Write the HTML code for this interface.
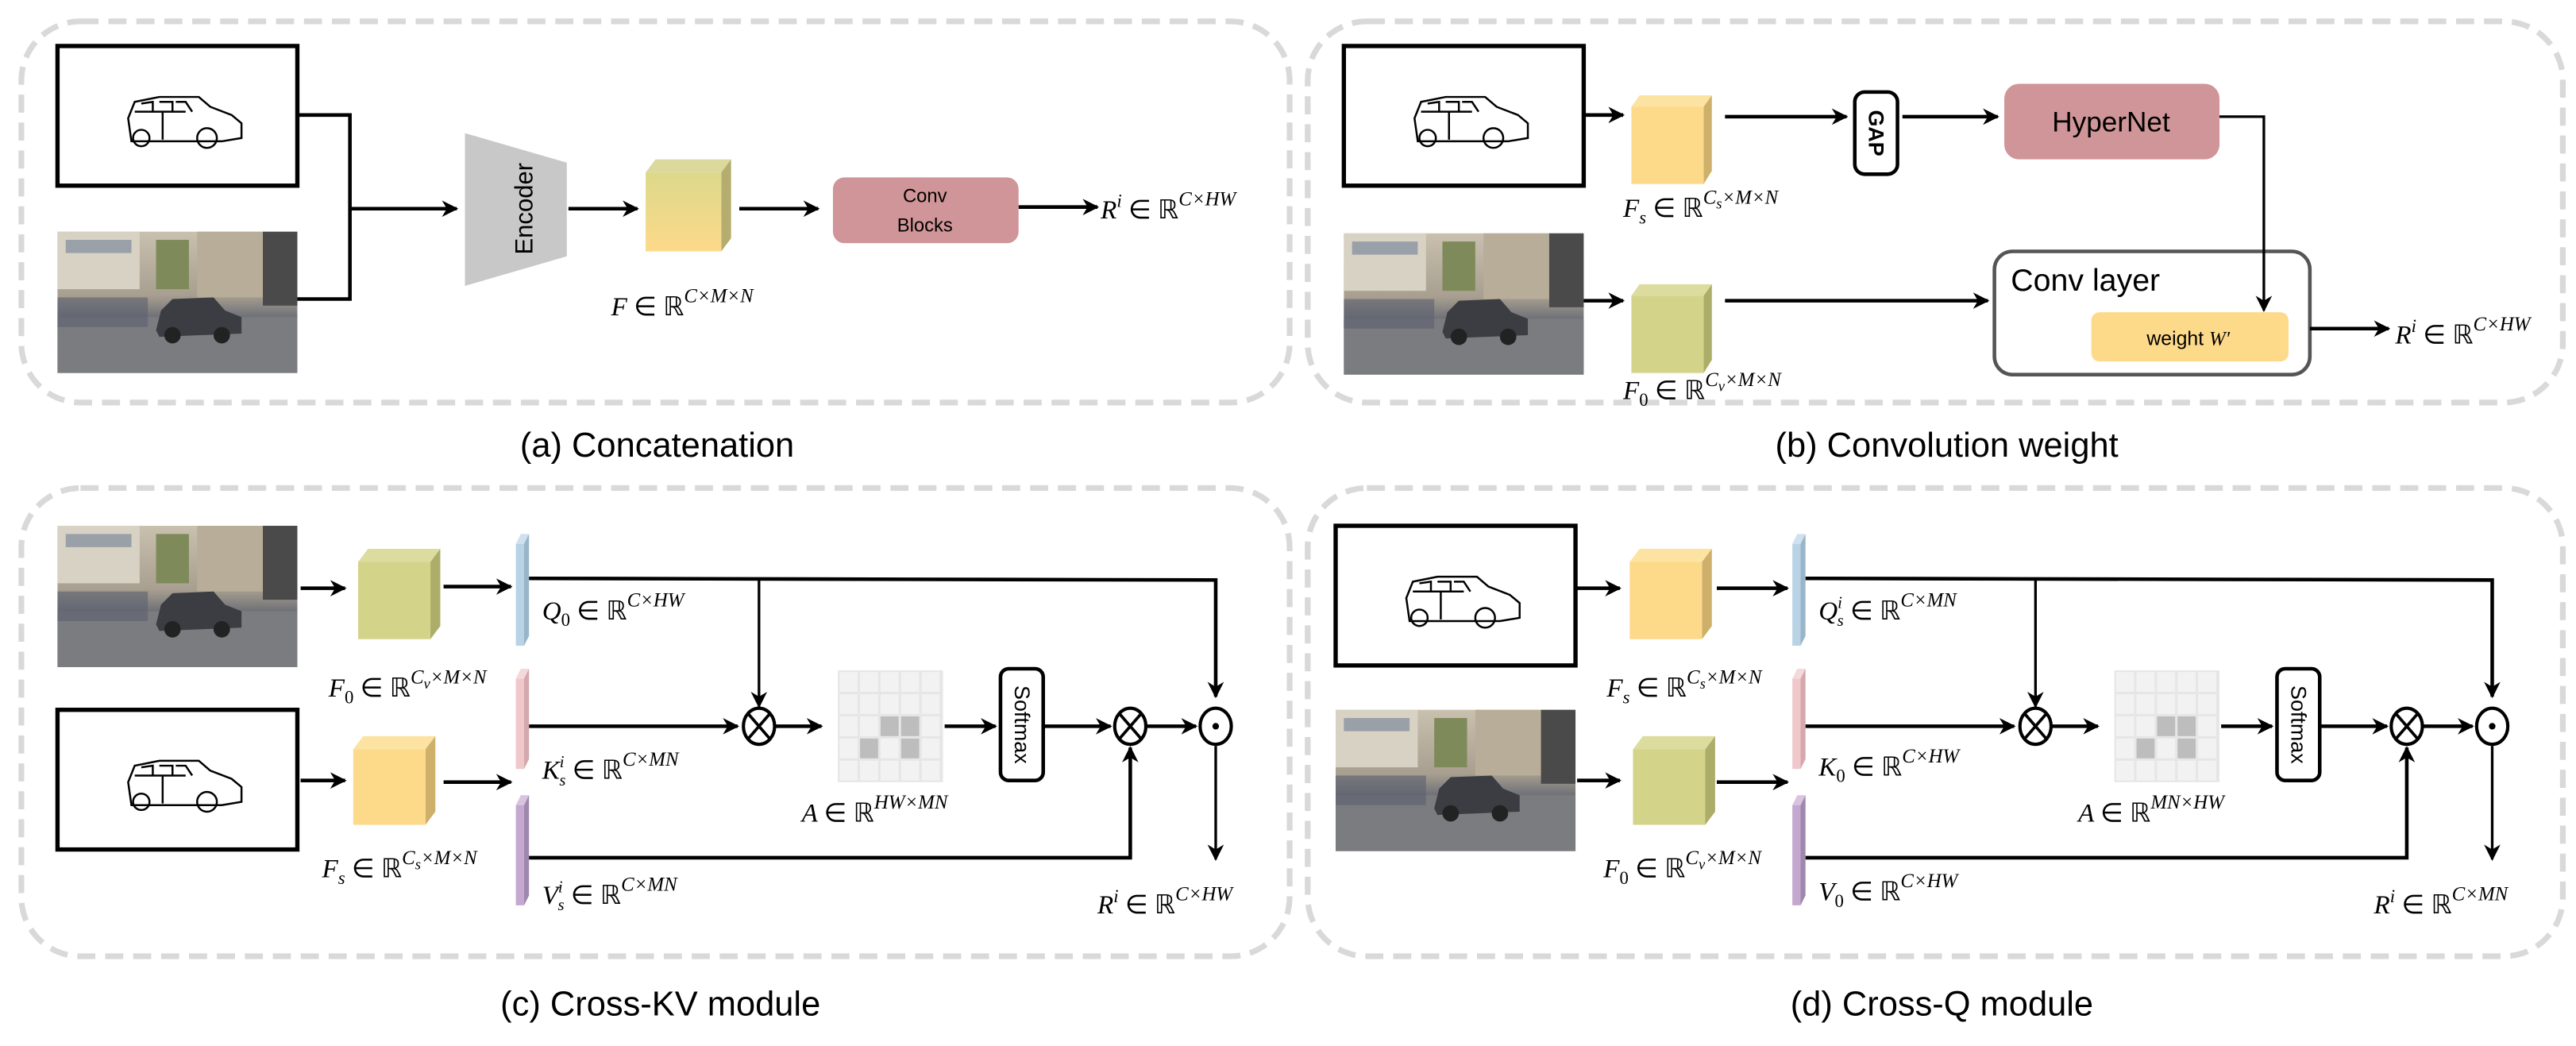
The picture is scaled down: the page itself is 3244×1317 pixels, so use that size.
<!DOCTYPE html>
<html><head><meta charset="utf-8"><style>
html,body{margin:0;padding:0;background:#fff}
svg{display:block}
.m{font-family:"Liberation Serif",serif;font-style:italic;font-size:16px;fill:#000}
.cap{font-family:"Liberation Sans",sans-serif;font-size:21px;fill:#000}
.s{font-family:"Liberation Sans",sans-serif;fill:#000}
</style></head><body>
<svg width="3244" height="1317" viewBox="0 0 1568 636.6" preserveAspectRatio="none" xmlns="http://www.w3.org/2000/svg">
<defs>
<marker id="ar" markerWidth="10" markerHeight="10" refX="9" refY="5" orient="auto" markerUnits="userSpaceOnUse">
<path d="M0,0 L10,5 L0,10 L3,5 Z" fill="#000"/></marker>
<linearGradient id="gF" x1="0" y1="0" x2="0" y2="1"><stop offset="0" stop-color="#dcd98a"/><stop offset="1" stop-color="#fdd98a"/></linearGradient>
<linearGradient id="sky" x1="0" y1="0" x2="0" y2="1"><stop offset="0" stop-color="#c9c0ae"/><stop offset="0.45" stop-color="#a89f90"/><stop offset="0.6" stop-color="#707278"/><stop offset="1" stop-color="#8a8b90"/></linearGradient>
<g id="sketch">
<rect x="0" y="0" width="146" height="85" fill="#fff" stroke="#000" stroke-width="2.6"/>
<g fill="none" stroke="#000" stroke-width="1.2">
<path d="M45,58 L43,44 L47,34 L62,31 L86,31 L93,37 L106,42 L112,47 L112,56 L100,58 L52,58 Z"/>
<path d="M47,40 L78,40 M51,35 L58,34 L58,40 M62,34 L70,34 L70,40 M72,34 L78,34 L82,40"/>
<path d="M64,40 L64,57"/>
<circle cx="51" cy="56" r="5"/><circle cx="91" cy="56" r="6"/>
</g></g>
<g id="photo">
<rect x="0" y="0" width="146" height="86" fill="url(#sky)"/>
<rect x="0" y="0" width="50" height="35" fill="#d8d2c4"/>
<rect x="5" y="5" width="40" height="8" fill="#9aa0a8"/>
<rect x="85" y="0" width="40" height="40" fill="#b8ad98"/>
<rect x="60" y="5" width="20" height="30" fill="#7f8a5a"/>
<rect x="125" y="0" width="21" height="45" fill="#4a4a4a"/>
<rect x="0" y="52" width="146" height="34" fill="#7b7c80"/>
<path d="M60,60 L63,48 L70,41 L95,40 L102,48 L112,52 L112,62 L62,64 Z" fill="#3b3d42"/>
<circle cx="70" cy="63" r="5" fill="#222"/><circle cx="100" cy="63" r="5" fill="#222"/>
<path d="M0,40 L55,40 L55,58 L0,58Z" fill="#5b6070" opacity="0.6"/>
</g>
</defs>

<g fill="none" stroke="#d9d9d9" stroke-width="3.5" stroke-dasharray="11,6">
<rect x="13" y="13" width="772" height="232" rx="36"/>
<rect x="796" y="13" width="764" height="232" rx="36"/>
<rect x="13" y="297" width="772" height="285" rx="36"/>
<rect x="796" y="297" width="764" height="285" rx="36"/>
</g>
<text class="cap" x="400" y="278" text-anchor="middle">(a) Concatenation</text>
<text class="cap" x="1185" y="278" text-anchor="middle">(b) Convolution weight</text>
<text class="cap" x="402" y="618" text-anchor="middle">(c) Cross-KV module</text>
<text class="cap" x="1182" y="618" text-anchor="middle">(d) Cross-Q module</text>

<!-- (a) -->
<use href="#sketch" x="35" y="28"/>
<use href="#photo" x="35" y="141"/>
<g stroke="#000" stroke-width="2.2" fill="none">
<path d="M182,70 L213,70 L213,182 L181,182"/>
<path d="M213,127 L278,127" marker-end="url(#ar)"/>
<path d="M346,127 L388,127" marker-end="url(#ar)"/>
<path d="M450,127 L498,127" marker-end="url(#ar)"/>
<path d="M620,126 L668,126" marker-end="url(#ar)"/>
</g>
<polygon points="283,81 345,99 345,156 283,174" fill="#c8c8c8"/>
<text class="s" font-size="15" transform="translate(319,127) rotate(-90)" text-anchor="middle" dominant-baseline="central">Encoder</text>
<polygon points="393,105 399,97 445,97 439,105" fill="#dcd99c"/>
<polygon points="439,105 445,97 445,145 439,153" fill="#b5ad70"/>
<rect x="393" y="105" width="46" height="48" fill="url(#gF)"/>
<text class="m" x="372" y="192">F <tspan font-style="normal">∈ ℝ</tspan><tspan dy="-8" font-size="12">C×M×N</tspan></text>
<rect x="507" y="108" width="113" height="40" rx="7" fill="#d09598"/>
<text class="s" font-size="11.5" x="563" y="123" text-anchor="middle">Conv</text>
<text class="s" font-size="11.5" x="563" y="141" text-anchor="middle">Blocks</text>
<text class="m" x="670" y="133">R<tspan dy="-7" font-size="11">i</tspan><tspan dy="7" font-style="normal"> ∈ ℝ</tspan><tspan dy="-8" font-size="12">C×HW</tspan></text>

<!-- (b) -->
<use href="#sketch" x="818" y="28"/>
<use href="#photo" x="818" y="142"/>
<rect x="1214" y="153" width="192" height="75" rx="11" fill="#fff" stroke="#555" stroke-width="2.2"/>
<text class="s" font-size="19" x="1224" y="177">Conv layer</text>
<rect x="1273" y="190" width="120" height="30" rx="5" fill="#fdd98a"/>
<text class="s" font-size="12" x="1332" y="210" text-anchor="middle">weight <tspan font-family="Liberation Serif" font-style="italic">W′</tspan></text>
<g stroke="#000" stroke-width="2.2" fill="none">
<path d="M964,70 L988,70" marker-end="url(#ar)"/>
<path d="M1050,71 L1124,71" marker-end="url(#ar)"/>
<path d="M1158,71 L1216,71" marker-end="url(#ar)"/>
<path d="M1350,71 L1378,71 L1378,189" stroke-width="1.6" marker-end="url(#ar)"/>
<path d="M964,183 L988,183" marker-end="url(#ar)"/>
<path d="M1050,183 L1210,183" marker-end="url(#ar)"/>
<path d="M1406,200 L1454,200" marker-end="url(#ar)"/>
</g>
<polygon points="993,65 998,58 1042,58 1037,65" fill="#fde3a2"/>
<polygon points="1037,65 1042,58 1042,104 1037,112" fill="#cfb06a"/>
<rect x="993" y="65" width="44" height="47" fill="#fdd98a"/>
<polygon points="993,180 998,173 1042,173 1037,180" fill="#dcdc9e"/>
<polygon points="1037,180 1042,173 1042,219 1037,227" fill="#adad6a"/>
<rect x="993" y="180" width="44" height="47" fill="#d3d38a"/>
<text class="m" x="988" y="132">F<tspan dy="4" font-size="11">s</tspan><tspan dy="-4" font-style="normal"> ∈ ℝ</tspan><tspan dy="-8" font-size="12">C</tspan><tspan dy="3" font-size="9">s</tspan><tspan dy="-3" font-size="12">×M×N</tspan></text>
<text class="m" x="988" y="243">F<tspan dy="4" font-size="11" font-style="normal">0</tspan><tspan dy="-4" font-style="normal"> ∈ ℝ</tspan><tspan dy="-8" font-size="12">C</tspan><tspan dy="3" font-size="9">v</tspan><tspan dy="-3" font-size="12">×M×N</tspan></text>
<rect x="1129" y="56" width="26" height="50" rx="6" fill="#fff" stroke="#000" stroke-width="2.2"/>
<text class="s" font-size="13" font-weight="bold" transform="translate(1142,81) rotate(90)" text-anchor="middle" dominant-baseline="central">GAP</text>
<rect x="1220" y="51" width="131" height="46" rx="9" fill="#d09598"/>
<text class="s" font-size="17" x="1285" y="80" text-anchor="middle">HyperNet</text>
<text class="m" x="1458" y="209">R<tspan dy="-7" font-size="11">i</tspan><tspan dy="7" font-style="normal"> ∈ ℝ</tspan><tspan dy="-8" font-size="12">C×HW</tspan></text>

<!-- (c) -->
<g id="attn">
<g stroke="#000" stroke-width="2.2" fill="none">
<path d="M322,352 L740,353 L740,424" marker-end="url(#ar)"/>
<path d="M462,353 L462,430" stroke-width="1.6" marker-end="url(#ar)"/>
<path d="M322,442 L449,442" marker-end="url(#ar)"/>
<path d="M472,442 L500,442" marker-end="url(#ar)"/>
<path d="M575,442 L606,442" marker-end="url(#ar)"/>
<path d="M636,442 L676,442" marker-end="url(#ar)"/>
<path d="M698,442 L728,442" marker-end="url(#ar)"/>
<path d="M322,522 L688,522 L688,455" marker-end="url(#ar)"/>
<path d="M740,454 L740,523" stroke-width="1.6" marker-end="url(#ar)"/>
</g>
<g fill="#fff" stroke="#000" stroke-width="2"><ellipse cx="462" cy="442" rx="9.5" ry="11"/><ellipse cx="688" cy="442" rx="9.5" ry="11"/><ellipse cx="740" cy="442" rx="9.5" ry="11"/></g>
<g stroke="#000" stroke-width="1.8"><path d="M455.5,434.5 L468.5,449.5 M468.5,434.5 L455.5,449.5 M681.5,434.5 L694.5,449.5 M694.5,434.5 L681.5,449.5"/></g>
<circle cx="740" cy="442" r="2" fill="#000"/>
<rect x="510" y="408" width="64" height="68" fill="#e6e6e6"/>
<g fill="#f2f2f2">
<rect x="511" y="409" width="11" height="12"/><rect x="523.5" y="409" width="11" height="12"/><rect x="536" y="409" width="11" height="12"/><rect x="548.5" y="409" width="11" height="12"/><rect x="561" y="409" width="11" height="12"/>
<rect x="511" y="422.5" width="11" height="12"/><rect x="523.5" y="422.5" width="11" height="12"/><rect x="536" y="422.5" width="11" height="12"/><rect x="548.5" y="422.5" width="11" height="12"/><rect x="561" y="422.5" width="11" height="12"/>
<rect x="511" y="436" width="11" height="12"/><rect x="523.5" y="436" width="11" height="12"/><rect x="561" y="436" width="11" height="12"/>
<rect x="511" y="449.5" width="11" height="12"/><rect x="536" y="449.5" width="11" height="12"/><rect x="561" y="449.5" width="11" height="12"/>
<rect x="511" y="463" width="11" height="12"/><rect x="523.5" y="463" width="11" height="12"/><rect x="536" y="463" width="11" height="12"/><rect x="548.5" y="463" width="11" height="12"/><rect x="561" y="463" width="11" height="12"/>
</g>
<g fill="#bdbdbd"><rect x="536" y="436" width="11" height="12"/><rect x="548.5" y="436" width="11" height="12"/><rect x="523.5" y="449.5" width="11" height="12"/><rect x="548.5" y="449.5" width="11" height="12"/></g>
<rect x="609" y="407" width="26" height="68" rx="5" fill="#fff" stroke="#000" stroke-width="2.2"/>
<text class="s" font-size="13" transform="translate(622,441) rotate(90)" text-anchor="middle" dominant-baseline="central">Softmax</text>
<g>
<polygon points="314,331 317,325 322,325 319,331" fill="#cfe0ee"/><polygon points="319,331 322,325 322,387 319,393" fill="#9ab5c8"/><rect x="314" y="331" width="5" height="62" fill="#b8d3e6"/>
<polygon points="314,413 317,407 322,407 319,413" fill="#f5d8da"/><polygon points="319,413 322,407 322,462 319,468" fill="#d4a8ac"/><rect x="314" y="413" width="5" height="55" fill="#f0c8cc"/>
<polygon points="314,490 317,484 322,484 319,490" fill="#d8c4e0"/><polygon points="319,490 322,484 322,545 319,551" fill="#a088ac"/><rect x="314" y="490" width="5" height="61" fill="#c4a8d0"/>
</g>
</g>
<use href="#photo" x="35" y="320"/>
<use href="#sketch" x="35" y="432"/>
<g stroke="#000" stroke-width="2.2" fill="none">
<path d="M183,358 L210,358" marker-end="url(#ar)"/>
<path d="M270,357 L311,357" marker-end="url(#ar)"/>
<path d="M183,475 L210,475" marker-end="url(#ar)"/>
<path d="M270,476 L311,476" marker-end="url(#ar)"/>
</g>
<polygon points="218,342 224,334 268,334 262,342" fill="#dcdc9e"/><polygon points="262,342 268,334 268,381 262,389" fill="#adad6a"/><rect x="218" y="342" width="44" height="47" fill="#d3d38a"/>
<polygon points="215,456 221,448 265,448 259,456" fill="#fde3a2"/><polygon points="259,456 265,448 265,494 259,502" fill="#cfb06a"/><rect x="215" y="456" width="44" height="46" fill="#fdd98a"/>
<text class="m" x="200" y="424">F<tspan dy="4" font-size="11" font-style="normal">0</tspan><tspan dy="-4" font-style="normal"> ∈ ℝ</tspan><tspan dy="-8" font-size="12">C</tspan><tspan dy="3" font-size="9">v</tspan><tspan dy="-3" font-size="12">×M×N</tspan></text>
<text class="m" x="196" y="534">F<tspan dy="4" font-size="11">s</tspan><tspan dy="-4" font-style="normal"> ∈ ℝ</tspan><tspan dy="-8" font-size="12">C</tspan><tspan dy="3" font-size="9">s</tspan><tspan dy="-3" font-size="12">×M×N</tspan></text>
<text class="m" x="330" y="377">Q<tspan dy="4" font-size="11" font-style="normal">0</tspan><tspan dy="-4" font-style="normal"> ∈ ℝ</tspan><tspan dy="-8" font-size="12">C×HW</tspan></text>
<text class="m" x="330" y="474">K<tspan dy="-7" font-size="10">i</tspan><tspan dx="-3" dy="11" font-size="10">s</tspan><tspan dy="-4" font-style="normal"> ∈ ℝ</tspan><tspan dy="-8" font-size="12">C×MN</tspan></text>
<text class="m" x="330" y="550">V<tspan dy="-7" font-size="10">i</tspan><tspan dx="-3" dy="11" font-size="10">s</tspan><tspan dy="-4" font-style="normal"> ∈ ℝ</tspan><tspan dy="-8" font-size="12">C×MN</tspan></text>
<text class="m" x="488" y="500">A <tspan font-style="normal">∈ ℝ</tspan><tspan dy="-8" font-size="12">HW×MN</tspan></text>
<text class="m" x="668" y="556">R<tspan dy="-7" font-size="11">i</tspan><tspan dy="7" font-style="normal"> ∈ ℝ</tspan><tspan dy="-8" font-size="12">C×HW</tspan></text>

<!-- (d) -->
<use href="#attn" x="777" y="0"/>
<use href="#sketch" x="813" y="320"/>
<use href="#photo" x="813" y="432"/>
<g stroke="#000" stroke-width="2.2" fill="none">
<path d="M960,358 L986,358" marker-end="url(#ar)"/>
<path d="M1045,358 L1088,358" marker-end="url(#ar)"/>
<path d="M960,475 L986,475" marker-end="url(#ar)"/>
<path d="M1045,476 L1088,476" marker-end="url(#ar)"/>
</g>
<polygon points="992,342 998,334 1042,334 1036,342" fill="#fde3a2"/><polygon points="1036,342 1042,334 1042,381 1036,389" fill="#cfb06a"/><rect x="992" y="342" width="44" height="47" fill="#fdd98a"/>
<polygon points="994,456 1000,448 1044,448 1038,456" fill="#dcdc9e"/><polygon points="1038,456 1044,448 1044,494 1038,502" fill="#adad6a"/><rect x="994" y="456" width="44" height="46" fill="#d3d38a"/>
<text class="m" x="978" y="424">F<tspan dy="4" font-size="11">s</tspan><tspan dy="-4" font-style="normal"> ∈ ℝ</tspan><tspan dy="-8" font-size="12">C</tspan><tspan dy="3" font-size="9">s</tspan><tspan dy="-3" font-size="12">×M×N</tspan></text>
<text class="m" x="976" y="534">F<tspan dy="4" font-size="11" font-style="normal">0</tspan><tspan dy="-4" font-style="normal"> ∈ ℝ</tspan><tspan dy="-8" font-size="12">C</tspan><tspan dy="3" font-size="9">v</tspan><tspan dy="-3" font-size="12">×M×N</tspan></text>
<text class="m" x="1107" y="377">Q<tspan dy="-7" font-size="10">i</tspan><tspan dx="-3" dy="11" font-size="10">s</tspan><tspan dy="-4" font-style="normal"> ∈ ℝ</tspan><tspan dy="-8" font-size="12">C×MN</tspan></text>
<text class="m" x="1107" y="472">K<tspan dy="4" font-size="11" font-style="normal">0</tspan><tspan dy="-4" font-style="normal"> ∈ ℝ</tspan><tspan dy="-8" font-size="12">C×HW</tspan></text>
<text class="m" x="1107" y="548">V<tspan dy="4" font-size="11" font-style="normal">0</tspan><tspan dy="-4" font-style="normal"> ∈ ℝ</tspan><tspan dy="-8" font-size="12">C×HW</tspan></text>
<text class="m" x="1265" y="500">A <tspan font-style="normal">∈ ℝ</tspan><tspan dy="-8" font-size="12">MN×HW</tspan></text>
<text class="m" x="1445" y="556">R<tspan dy="-7" font-size="11">i</tspan><tspan dy="7" font-style="normal"> ∈ ℝ</tspan><tspan dy="-8" font-size="12">C×MN</tspan></text>
</svg>
</body></html>
